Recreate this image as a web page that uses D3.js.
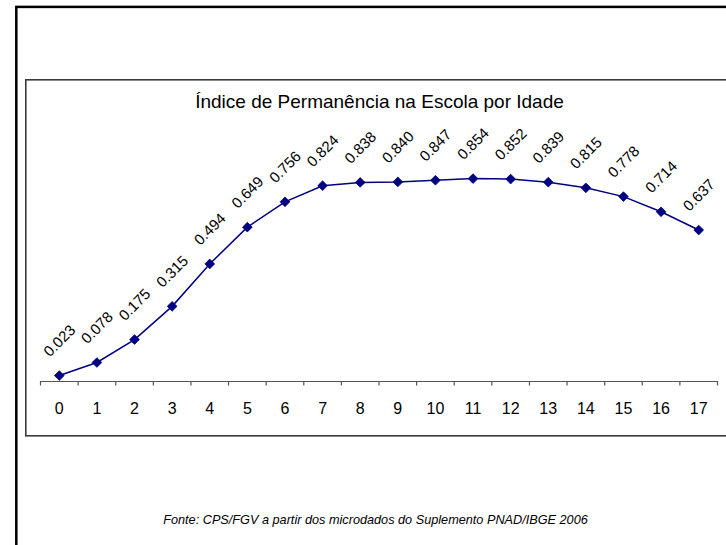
<!DOCTYPE html>
<html>
<head>
<meta charset="utf-8">
<script src="https://cdn.jsdelivr.net/npm/d3@7"></script>
<style>
  body { margin: 0; background: #fff; }
  svg { display: block; font-family: Arial, "Liberation Sans", sans-serif; }
</style>
</head>
<body>
<div id="chart"></div>
<script>
var svgWidth = 726;
var svgHeight = 545;

// data
var ages = [0, 1, 2, 3, 4, 5, 6, 7, 8, 9, 10, 11, 12, 13, 14, 15, 16, 17];
var indice = [0.023, 0.078, 0.175, 0.315, 0.494, 0.649, 0.756, 0.824, 0.838,
              0.840, 0.847, 0.854, 0.852, 0.839, 0.815, 0.778, 0.714, 0.637];
var title = "Índice de Permanência na Escola por Idade";
var fonte = "Fonte: CPS/FGV a partir dos microdados do Suplemento PNAD/IBGE 2006";

var data = ages.map((a, i) => ({age: a, value: indice[i]}));

var svg = d3.select("#chart").append("svg")
    .attr("width", svgWidth)
    .attr("height", svgHeight);

// outer frame
svg.append("rect")
    .attr("x", 16.3).attr("y", 6.9)
    .attr("width", 760).attr("height", 600)
    .attr("fill", "none")
    .attr("stroke", "#000")
    .attr("stroke-width", 2.5);

// chart area frame
svg.append("rect")
    .attr("x", 25.8).attr("y", 79.8)
    .attr("width", 760).attr("height", 356)
    .attr("fill", "none")
    .attr("stroke", "#3a3a3a")
    .attr("stroke-width", 1.6);

var x = d3.scaleBand()
    .domain(ages)
    .range([40.5, 717.5]);
var y = d3.scaleLinear()
    .domain([0, 1])
    .range([381, 144]);

svg.append("text")
    .attr("x", 379.5)
    .attr("y", 108)
    .attr("text-anchor", "middle")
    .style("font-size", "19px")
    .attr("fill", "#000")
    .text(title);

var xaxis = svg.append("g")
    .attr("class", "axis")
    .attr("transform", "translate(0," + y(0) + ")")
    .call(d3.axisBottom(x).tickSize(0).tickPadding(22));
xaxis.select(".domain").attr("stroke", "#555").attr("stroke-width", 1.2);
xaxis.selectAll("text")
    .style("font-size", "16px")
    .style("font-family", "Arial, 'Liberation Sans', sans-serif")
    .attr("fill", "#000");

// ticks at category boundaries
var bounds = ages.map(a => x(a)).concat([x.range()[1]]);
xaxis.selectAll(".bound")
    .data(bounds)
    .enter().append("line")
    .attr("class", "bound")
    .attr("x1", d => d).attr("x2", d => d)
    .attr("y1", 0).attr("y2", 4.5)
    .attr("stroke", "#555")
    .attr("stroke-width", 1.2);

var line = d3.line()
    .x(d => x(d.age) + x.bandwidth() / 2)
    .y(d => y(d.value));

svg.append("path")
    .datum(data)
    .attr("fill", "none")
    .attr("stroke", "#000080")
    .attr("stroke-width", 1.5)
    .attr("d", line);

svg.selectAll(".marker")
    .data(data)
    .enter().append("path")
    .attr("class", "marker")
    .attr("d", d3.symbol().type(d3.symbolDiamond2).size(60))
    .attr("transform", d => "translate(" + (x(d.age) + x.bandwidth() / 2) + "," + y(d.value) + ")")
    .attr("fill", "#000080")
    .attr("stroke", "#000080")
    .attr("stroke-width", 0.8);

svg.selectAll(".lbl")
    .data(data)
    .enter().append("text")
    .attr("class", "lbl")
    .attr("transform", d => "translate(" + (x(d.age) + x.bandwidth() / 2) + "," + (y(d.value) - 35) + ") rotate(-45)")
    .attr("text-anchor", "middle")
    .attr("dy", "0.35em")
    .style("font-size", "15px")
    .attr("fill", "#000")
    .text(d => d.value.toFixed(3));

svg.append("text")
    .attr("x", 375.5)
    .attr("y", 524)
    .attr("text-anchor", "middle")
    .style("font-size", "12.7px")
    .style("font-style", "italic")
    .attr("fill", "#000")
    .text(fonte);
</script>
</body>
</html>
